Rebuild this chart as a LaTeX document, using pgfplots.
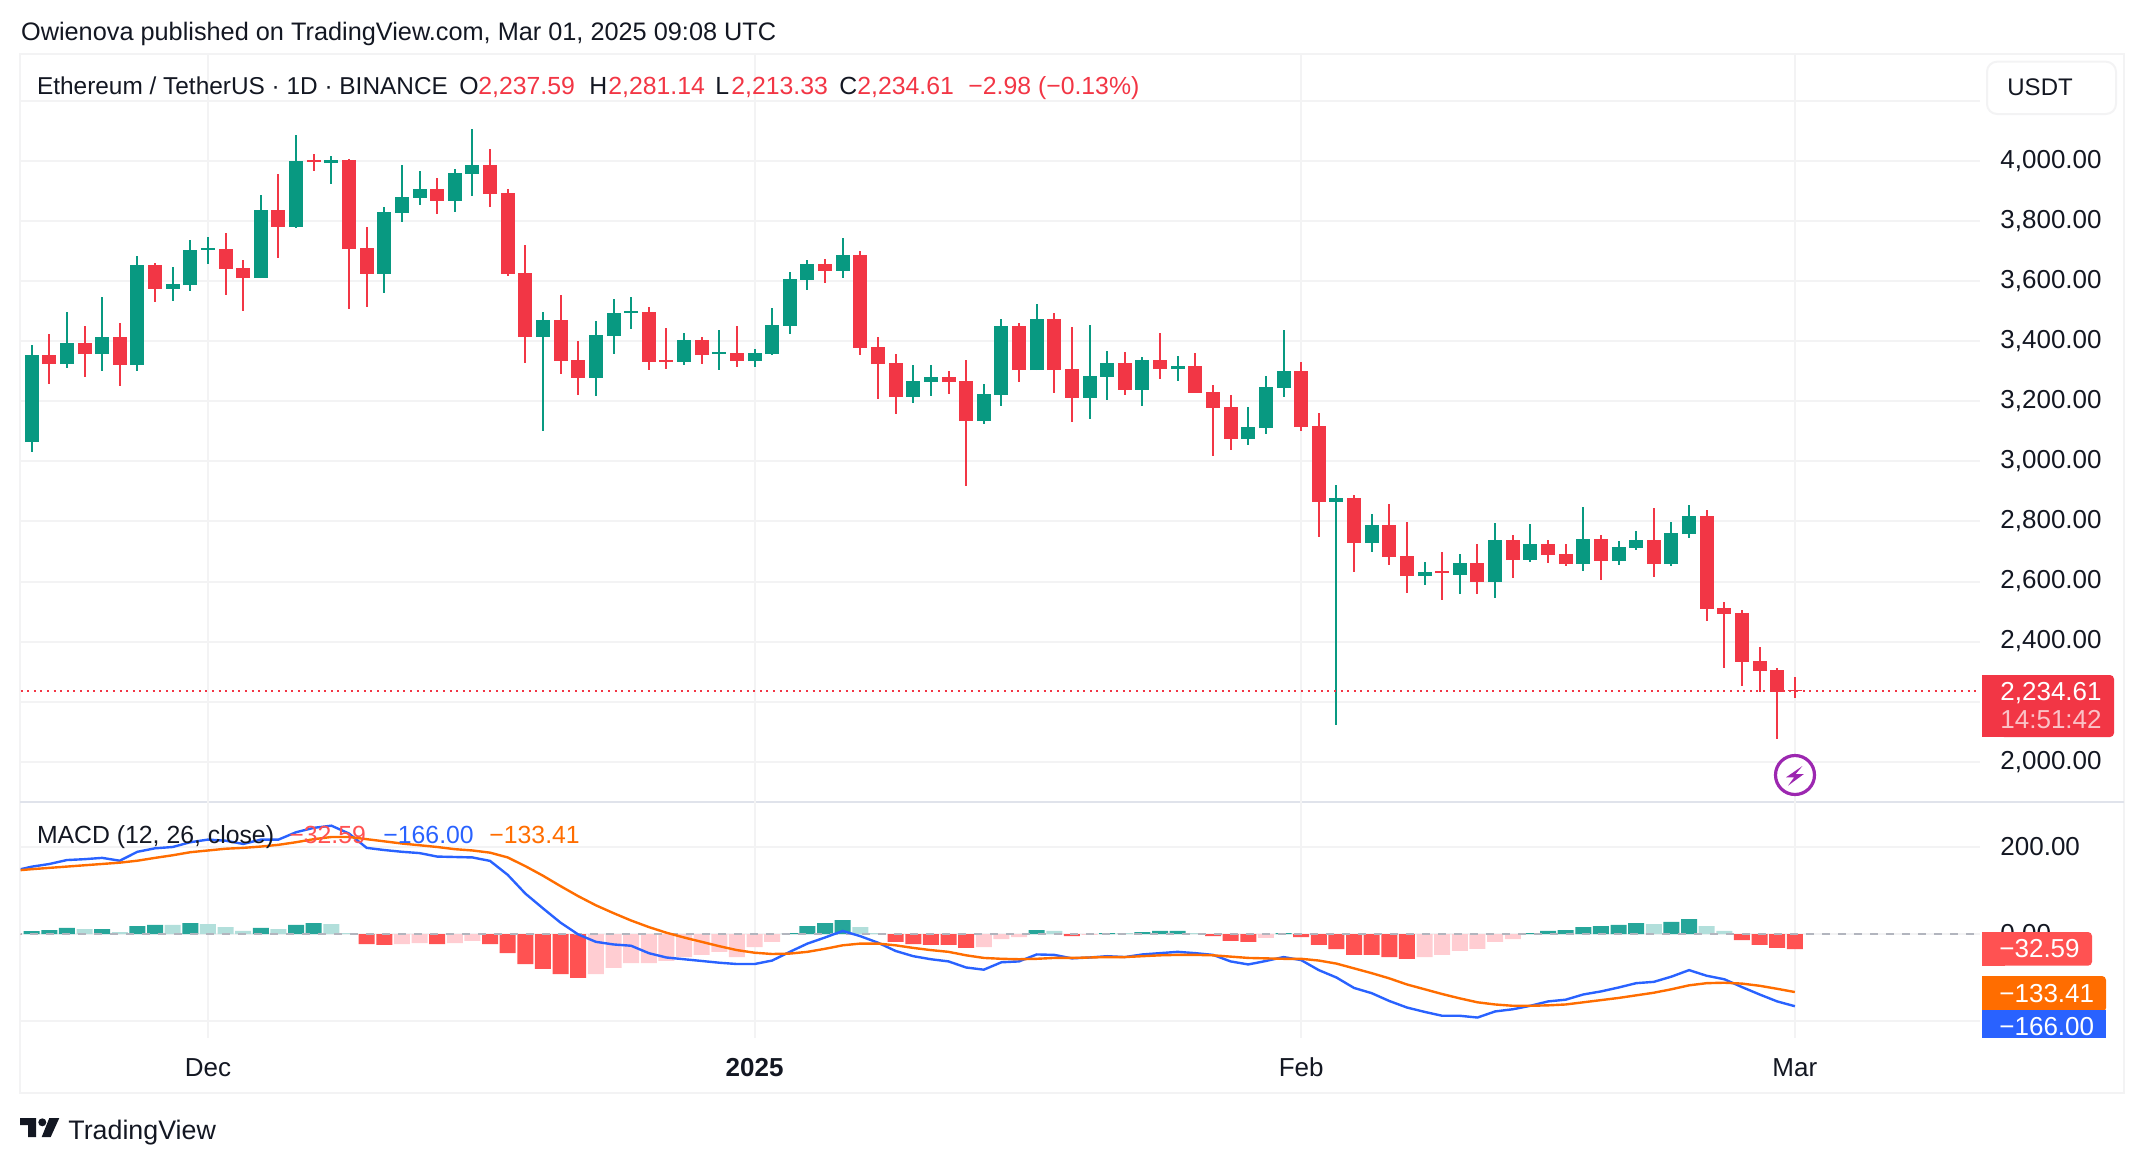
\documentclass[border=0pt]{standalone}
\usepackage{fontspec}
\usepackage{pgfplots}
\usepackage{pgfplotstable}
\pgfplotsset{compat=1.18}
\setmainfont{Liberation Sans}

\definecolor{candleup}{HTML}{089981}
\definecolor{candledown}{HTML}{F23645}
\definecolor{histgd}{HTML}{26A69A}
\definecolor{histgl}{HTML}{B2DFDB}
\definecolor{histrd}{HTML}{FF5252}
\definecolor{histrl}{HTML}{FFCDD2}
\definecolor{macdblue}{HTML}{2962FF}
\definecolor{macdorange}{HTML}{FF6D00}
\definecolor{gridc}{HTML}{F3F3F4}
\definecolor{sepc}{HTML}{E0E3EB}
\definecolor{txt}{HTML}{131722}
\definecolor{boltc}{HTML}{9C27B0}
\definecolor{zeroc}{HTML}{B2B5BE}
\definecolor{tagsoft}{HTML}{FBC2C7}

\newcommand{\hd}{\fontsize{12.4}{15}\selectfont}

% day number: 0 = 1 Dec 2024, columns open high low close
\pgfplotstableread{
d o h l c
-10 3064 3387 3031 3354
-8 3324 3497 3311 3394
-6 3357 3547 3301 3414
-4 3321 3684 3301 3654
-2 3574 3647 3534 3591
-1 3587 3737 3567 3704
0 3704 3747 3657 3710
3 3610 3887 3610 3837
5 3780 4087 3777 4000
7 3993 4017 3923 4003
10 3624 3847 3561 3830
11 3827 3987 3797 3880
12 3877 3967 3854 3907
14 3867 3973 3830 3960
15 3957 4107 3883 3987
19 3414 3497 3101 3471
22 3278 3467 3218 3421
23 3417 3541 3357 3494
24 3494 3547 3441 3501
27 3331 3427 3321 3404
29 3357 3437 3304 3364
31 3334 3374 3314 3361
32 3357 3511 3354 3454
33 3451 3630 3424 3607
34 3604 3670 3571 3657
36 3634 3744 3611 3687
40 3214 3321 3194 3268
41 3264 3321 3218 3281
44 3134 3258 3124 3224
45 3221 3474 3184 3451
47 3304 3524 3304 3474
50 3211 3454 3141 3284
51 3281 3367 3204 3327
53 3238 3347 3184 3337
55 3307 3351 3268 3317
59 3074 3181 3054 3114
60 3111 3284 3091 3248
61 3244 3437 3214 3301
64 2865 2921 2122 2878
66 2728 2825 2698 2788
69 2618 2665 2588 2632
71 2622 2691 2558 2661
73 2598 2795 2545 2738
75 2672 2791 2665 2725
78 2658 2848 2635 2741
80 2668 2735 2655 2715
81 2712 2768 2705 2738
83 2658 2798 2652 2761
84 2758 2855 2745 2818
}\upcandles

\pgfplotstableread{
d o h l c
-9 3354 3424 3258 3324
-7 3394 3451 3281 3357
-5 3414 3461 3251 3321
-3 3654 3660 3531 3574
1 3707 3760 3554 3640
2 3644 3670 3501 3610
4 3837 3957 3677 3780
6 4003 4023 3967 3997
8 4003 4007 3507 3707
9 3710 3780 3514 3624
13 3907 3943 3824 3867
16 3987 4040 3847 3890
17 3893 3907 3617 3624
18 3627 3720 3327 3414
20 3471 3554 3291 3334
21 3337 3401 3221 3278
25 3497 3514 3304 3331
26 3337 3444 3308 3331
28 3404 3414 3324 3354
30 3361 3451 3314 3334
35 3657 3674 3594 3634
37 3687 3700 3354 3377
38 3381 3414 3208 3324
39 3327 3357 3158 3214
42 3281 3301 3224 3264
43 3268 3337 2918 3134
46 3451 3461 3264 3304
48 3474 3494 3228 3304
49 3307 3447 3131 3211
52 3327 3364 3221 3238
54 3337 3427 3274 3307
56 3317 3361 3228 3228
57 3231 3254 3018 3178
58 3181 3221 3038 3074
62 3301 3331 3101 3114
63 3118 3161 2748 2865
65 2878 2888 2632 2728
67 2788 2858 2655 2681
68 2685 2798 2562 2618
70 2635 2698 2538 2628
72 2661 2725 2558 2598
74 2738 2755 2612 2671
76 2725 2738 2662 2688
77 2692 2725 2652 2658
79 2741 2755 2605 2668
82 2738 2845 2615 2658
85 2818 2838 2468 2508
86 2512 2532 2312 2492
87 2495 2505 2252 2332
88 2335 2382 2232 2302
89 2305 2312 2076 2232
90 2237.59 2281.14 2213.33 2234.61
}\downcandles

% MACD histogram, one table per colour
\pgfplotstableread{
d v
-10 6.9
-9 9
-8 14
-6 11.5
-4 18
-3 21
-1 25
3 14
5 21
6 25
33 2
34 18
35 25
36 32
47 9
51 2
53 4.6
54 7
55 7
61 2
75 2
76 7
77 9
78 16
79 18
80 21
81 25
83 28
84 34
}\histgd
\pgfplotstableread{
d v
-7 11.5
-5 4.6
-2 21
0 23
1 16
2 7
4 11.5
7 23
8 2.3
37 16
38 2
48 7
52 2
56 2
82 23
85 18
86 7
}\histgl
\pgfplotstableread{
d v
-11 -2
9 -23
10 -25
13 -23
16 -23
17 -44
18 -69
19 -80
20 -92
21 -101
39 -18
40 -23
41 -25
42 -25
43 -32
49 -5
57 -5
58 -16
59 -18
62 -7
63 -25
64 -35
65 -48
66 -48
67 -53
68 -57
87 -14
88 -25
89 -32
90 -35
}\histrd
\pgfplotstableread{
d v
11 -23
12 -21
14 -21
15 -16
22 -92
23 -78
24 -67
25 -67
26 -62
27 -53
28 -48
29 -41
30 -53
31 -30
32 -18
44 -30
45 -11.5
46 -7
50 -2
60 -9
69 -53
70 -48
71 -39
72 -34
73 -18
74 -11.5
}\histrl

% macd and signal lines
\pgfplotstableread{
d m s
-11 145.5 145.5
-10 154.7 149
-9 160.9 152
-8 170 155
-7 172 158
-6 175 161
-5 168.5 164
-4 189 168.5
-3 197 175
-2 200 181
-1 211 188
0 217 192
1 214.5 196
2 207 198
3 217 201
4 217 205
5 234 211
6 244 218
7 249 223
8 231 223
9 198 218
10 193 213
11 189 208
12 186 204
13 178 200
14 177 195
15 176 192
16 168 187
17 136 176
18 93 156
19 59 134
20 26 110
21 -1 87
22 -18 66
23 -24 48
24 -27 31
25 -44 16
26 -54 3
27 -58 -8
28 -62 -18
29 -66 -28
30 -69 -37
31 -69 -43
32 -61 -46
33 -41 -45
34 -22 -41
35 -8 -34
36 7 -26
37 -5 -22
38 -20 -22
39 -39 -26
40 -51 -32
41 -58 -37
42 -63 -41
43 -77 -49
44 -82 -55
45 -65 -57
46 -63 -58
47 -47 -57
48 -48 -55
49 -56 -55
50 -54 -54
51 -51 -53
52 -53 -53
53 -47 -51
54 -44 -49
55 -41 -48
56 -44 -48
57 -48 -49
58 -63 -52
59 -70 -55
60 -62 -56
61 -53 -57
62 -60 -57
63 -83 -61
64 -100 -68
65 -124 -79
66 -136 -90
67 -154 -102
68 -169 -116
69 -179 -127
70 -188 -138
71 -188 -148
72 -192 -157
73 -178 -162
74 -173 -165
75 -165 -165
76 -155 -164
77 -151 -162
78 -139 -157
79 -132 -152
80 -123 -147
81 -113 -141
82 -110 -135
83 -98 -127
84 -83 -118
85 -96 -113
86 -104 -112
87 -122 -114
88 -139 -119
89 -155 -126
90 -166 -133.41
}\macdlines

\pgfplotsset{
  tvpane/.style={
    scale only axis,
    width=979.65pt,
    xmin=-10.62, xmax=100.5,
    axis line style={draw=none},
    tick style={draw=none},
    major tick length=0pt,
    xtick={0,31,62,90},
    grid=major,
    grid style={color=gridc, line width=1pt},
    ticklabel style={font=\fontsize{13}{15}\selectfont, color=txt},
    yticklabel pos=right,
    yticklabel style={anchor=west, inner sep=0pt, xshift=10pt,
      /pgf/number format/.cd, fixed, fixed zerofill, precision=2, 1000 sep={,}, assume math mode=true},
    xticklabel style={anchor=north, inner sep=0pt, yshift=-10pt},
  },
  wick/.style={draw=none, mark=none, forget plot,
    error bars/.cd, y dir=both, y explicit, error mark=none,
    error bar style={line width=1pt, color=#1}},
  body/.style={draw=none, mark=none, forget plot,
    error bars/.cd, y dir=plus, y explicit, error mark=none,
    error bar style={line width=7pt, color=#1}},
  histbar/.style={ybar, bar width=8pt, bar shift=0pt, fill=#1, draw=none, forget plot},
}

\begin{document}
\begin{tikzpicture}
\path[use as bounding box] (0pt,0pt) rectangle (1072pt,-582pt);

\begin{scope}[x=0.5pt,y=-0.5pt]
  \draw[gridc, line width=1pt] (20,53.5) rectangle (2124,1093);
  \draw[sepc, line width=1pt] (20,801.7) -- (2124,801.7);
\end{scope}

% price pane
\begin{axis}[tvpane,
  at={(10.35pt,-400.85pt)}, anchor=south west,
  height=374.1pt,
  ymin=1866.8, ymax=4358,
  ytick={2000,2200,...,4000},
  extra y ticks={4200},
  extra y tick labels={},
  xticklabels={},
]
  \addplot[wick=candleup] table[x=d, y=o, y error plus expr=\thisrow{h}-\thisrow{o}, y error minus expr=\thisrow{o}-\thisrow{l}] {\upcandles};
  \addplot[wick=candledown] table[x=d, y=c, y error plus expr=\thisrow{h}-\thisrow{c}, y error minus expr=\thisrow{c}-\thisrow{l}] {\downcandles};
  \addplot[body=candleup] table[x=d, y=o, y error plus expr=\thisrow{c}-\thisrow{o}] {\upcandles};
  \addplot[body=candledown] table[x=d, y=c, y error plus expr=\thisrow{o}-\thisrow{c}] {\downcandles};
  \addplot[candledown, line width=1pt, dash pattern=on 1pt off 2.3pt] coordinates {(-11,2234.61) (101,2234.61)};
\end{axis}

% macd pane
\begin{axis}[tvpane,
  at={(10.35pt,-518.85pt)}, anchor=south west,
  height=118pt,
  ymin=-238.4, ymax=304.1,
  ytick={0,200},
  extra y ticks={-200},
  extra y tick labels={},
  xticklabels={Dec,\textbf{2025},Feb,Mar},
]
  \addplot[histbar=histgd] table[x=d, y=v] {\histgd};
  \addplot[histbar=histgl] table[x=d, y=v] {\histgl};
  \addplot[histbar=histrd] table[x=d, y=v] {\histrd};
  \addplot[histbar=histrl] table[x=d, y=v] {\histrl};
  \addplot[zeroc, line width=1pt, dash pattern=on 4pt off 4pt] coordinates {(-11,0) (101,0)};
  \addplot[macdblue, line width=1.2pt] table[x=d, y=m] {\macdlines};
  \addplot[macdorange, line width=1.2pt] table[x=d, y=s] {\macdlines};
\end{axis}

\begin{scope}[x=0.5pt,y=-0.5pt, every node/.style={inner sep=0pt, anchor=base west, font=\fontsize{13}{15}\selectfont, text=txt}]
  % header
  \node at (20.7,40.5) {\fontsize{12.65}{15}\selectfont Owienova published on TradingView.com, Mar 01, 2025 09:08 UTC};
  \node at (36.7,94) {\fontsize{12.2}{15}\selectfont Ethereum / TetherUS · 1D · BINANCE};
  \node at (459,94) {\hd O};
  \node[text=candledown] at (478,94) {\hd 2,237.59};
  \node at (589,94) {\hd H};
  \node[text=candledown] at (608,94) {\hd 2,281.14};
  \node at (715,94) {\hd L};
  \node[text=candledown] at (731,94) {\hd 2,213.33};
  \node at (839,94) {\hd C};
  \node[text=candledown] at (857,94) {\hd 2,234.61};
  \node[text=candledown] at (968,94) {\hd −2.98 (−0.13\%)};
  % currency button
  \draw[draw=gridc, fill=white, line width=1pt, rounded corners=5pt] (1987,61.7) rectangle (2116,114);
  \node at (2007,95) {\fontsize{12}{15}\selectfont USDT};
  % last price tag
  \fill[candledown, rounded corners=2pt] (2000,675) rectangle (2114,737);
  \fill[candledown] (1982,675) rectangle (2005,737);
  \node[text=white] at (2000,700) {2,234.61};
  \node[text=tagsoft] at (2000,728) {14:51:42};
  % dividends marker
  \draw[boltc, line width=1.6pt, fill=white] (1795,775) circle (19.5);
  \fill[boltc] (1802.4,766) -- (1786,777.3) -- (1794.2,777.3) -- (1788,785.7) -- (1803.9,774) -- (1795.7,774) -- cycle;
  % macd legend
  \node at (36.6,843) {\hd MACD (12, 26, close)};
  \node[text=histrd] at (289,843) {\hd −32.59};
  \node[text=macdblue] at (383,843) {\hd −166.00};
  \node[text=macdorange] at (489,843) {\hd −133.41};
  % macd tags
  \fill[histrd, rounded corners=2pt] (2000,932) rectangle (2092,965.7);
  \fill[histrd] (1982,932) rectangle (2005,965.7);
  \fill[macdorange, rounded corners=2pt] (2000,976) rectangle (2106,1012);
  \fill[macdorange] (1982,976) rectangle (2005,1012);
  \fill[macdblue] (1982,1010) rectangle (2106,1037.7);
  \node[text=white] at (1999,957.5) {−32.59};
  \node[text=white] at (1999,1002) {−133.41};
  \node[text=white] at (1999,1035) {−166.00};
  % logo
  \fill[txt] (20,1118) -- (36,1118) -- (36,1137) -- (28,1137) -- (28,1125) -- (20,1125) -- cycle;
  \fill[txt] (42.3,1122.3) circle (4);
  \fill[txt] (49.3,1118) -- (59.3,1118) -- (50.7,1137) -- (41.7,1137) -- cycle;
  \node at (68,1139) {\fontsize{13.4}{15}\selectfont TradingView};
\end{scope}
\end{tikzpicture}
\end{document}
